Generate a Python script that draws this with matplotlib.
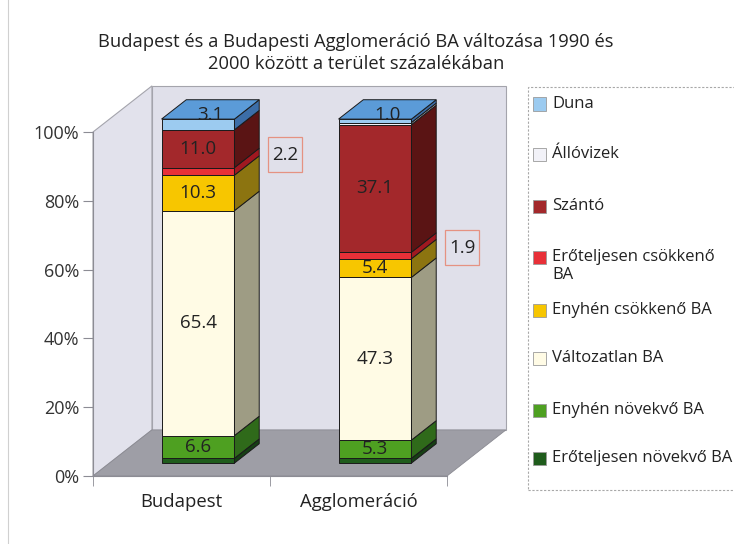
"""3D-style stacked bar chart: Budapest and agglomeration land-use change."""

import matplotlib.pyplot as plt
from matplotlib.patches import Polygon, Rectangle

plt.rcParams["font.family"] = ["Open Sans", "DejaVu Sans"]

categories = ["Budapest", "Agglomeráció"]
series = [
    "Erőteljesen növekvő BA",
    "Enyhén növekvő BA",
    "Változatlan BA",
    "Enyhén csökkenő BA",
    "Erőteljesen csökkenő BA",
    "Szántó",
    "Állóvizek",
    "Duna",
]
budapest = [1.4, 6.6, 65.4, 10.3, 2.2, 11.0, 0.0, 3.1]
agglomeracio = [1.4, 5.3, 47.3, 5.4, 1.9, 37.1, 0.6, 1.0]
values = [budapest, agglomeracio]

# which series get a label on the front face / top / in a callout box
front_labels = ["Enyhén növekvő BA", "Változatlan BA", "Enyhén csökkenő BA", "Szántó"]
top_label = "Duna"
callout_label = "Erőteljesen csökkenő BA"

front_col = ["#1f5c1c", "#4ea021", "#fffbe5", "#f7c600", "#e83038", "#a3282b", "#f2f2f8", "#9ccbf0"]
side_col = ["#163f14", "#2f6a1a", "#9e9c84", "#8c7410", "#a01820", "#5a1414", "#b0b0b8", "#3c6ea8"]
top_col = ["#2f7a2a", "#5cb030", "#fffdf0", "#ffd83a", "#f05058", "#b83a3a", "#fafafc", "#5b9bd8"]

W, H = 734, 544
fig = plt.figure(figsize=(W / 100, H / 100), dpi=100)
fig.patch.set_facecolor("white")

# axes covers the front plane of the 3D box
ax = fig.add_axes([93 / W, (H - 476) / H, 354 / W, 344 / H])
ax.set_xlim(-0.5, 1.5)
ax.set_ylim(0, 100)
ax.patch.set_visible(False)

DX, DY = 0.333, 13.4  # full depth of the box in data units
fx, fy = 0.28 * DX, 0.28 * DY  # bar front offset
bx, by = 0.42 * DX, 0.42 * DY  # bar depth
bw = 0.412

wall = "#e0e0ea"
wall_edge = "#a4a4ac"
ax.add_patch(Polygon([(-0.5 + DX, DY), (1.5 + DX, DY), (1.5 + DX, 100 + DY), (-0.5 + DX, 100 + DY)],
                     closed=True, fc=wall, ec=wall_edge, lw=0.8, clip_on=False, zorder=0))
ax.add_patch(Polygon([(-0.5, 0), (-0.5, 100), (-0.5 + DX, 100 + DY), (-0.5 + DX, DY)],
                     closed=True, fc="#e2e2ec", ec=wall_edge, lw=0.8, clip_on=False, zorder=0))
ax.add_patch(Polygon([(-0.5, 0), (1.5, 0), (1.5 + DX, DY), (-0.5 + DX, DY)],
                     closed=True, fc="#9e9ea6", ec="#8a8a92", lw=0.6, clip_on=False, zorder=0))

edge = "#1a1a1a"
label_fs = 13.5
callout_dy = [4.8, 2.3]
callout_w, callout_h = 0.192, 10.2
for i, cat in enumerate(categories):
    c = i
    bottom = 0.0
    vals = values[i]
    last = max(k for k, v in enumerate(vals) if v > 0)
    for k, v in enumerate(vals):
        if v <= 0:
            continue
        y0, y1 = bottom + fy, bottom + v + fy
        xl, xr = c + fx - bw / 2, c + fx + bw / 2
        ax.add_patch(Rectangle((xl, y0), bw, v, fc=front_col[k], ec=edge, lw=0.7,
                               clip_on=False, zorder=2))
        ax.add_patch(Polygon([(xr, y0), (xr + bx, y0 + by), (xr + bx, y1 + by), (xr, y1)],
                             closed=True, fc=side_col[k], ec=edge, lw=0.7, clip_on=False, zorder=2))
        if k == last:
            ax.add_patch(Polygon([(xl, y1), (xr, y1), (xr + bx, y1 + by), (xl + bx, y1 + by)],
                                 closed=True, fc=top_col[k], ec=edge, lw=0.7, clip_on=False, zorder=2))
        name = series[k]
        if name in front_labels:
            ax.text(c + fx, (y0 + y1) / 2, f"{v:.1f}", ha="center", va="center",
                    fontsize=label_fs, color="#222222", zorder=3)
        elif name == top_label:
            ax.text(c + fx + bx / 2, y1 + by / 2 - 1.5, f"{v:.1f}", ha="center", va="center",
                    fontsize=label_fs, color="#222222", zorder=3)
        elif name == callout_label:
            lx, ly = c + 0.585, (y0 + y1) / 2 + callout_dy[i]
            ax.add_patch(Rectangle((lx - callout_w / 2, ly - callout_h / 2), callout_w, callout_h,
                                   fc="none", ec="#e59282", lw=0.9, clip_on=False, zorder=3))
            ax.text(lx, ly, f"{v:.1f}", ha="center", va="center",
                    fontsize=label_fs, color="#222222", zorder=3)
        bottom += v

# axes styling
for s in ["top", "right"]:
    ax.spines[s].set_visible(False)
ax.spines["left"].set_color("#8c8c94")
ax.spines["bottom"].set_color("#8c8c94")
ax.set_yticks(range(0, 101, 20))
ax.set_yticklabels([f"{t}%" for t in range(0, 101, 20)])
ax.tick_params(axis="y", direction="out", length=7, color="#8c8c94", labelsize=13,
               labelcolor="#333333", pad=3)
ax.set_xticks(range(len(categories)))
ax.set_xticklabels(categories)
ax.tick_params(axis="x", length=0, labelsize=13.3, labelcolor="#222222", pad=12)
ax.set_xticks([-0.5, 0.5, 1.5], minor=True)
ax.tick_params(axis="x", which="minor", direction="out", length=7, color="#8c8c94")

fig.text(356 / W, 1 - 42 / H, "Budapest és a Budapesti Agglomeráció BA változása 1990 és",
         ha="center", va="center", fontsize=13.2, color="#222222")
fig.text(356 / W, 1 - 64 / H, "2000 között a terület százalékában",
         ha="center", va="center", fontsize=13.2, color="#222222")

# legend (top to bottom, reverse of stacking order)
fig.add_artist(Rectangle((528 / W, 1 - 490 / H), 220 / W, 403 / H, transform=fig.transFigure,
                         fc="none", ec="#a8a8a8", lw=0.8, ls=(0, (2, 1.5))))
leg_y = [104, 154, 206, 257, 310, 358, 410, 458]
leg_text = {"Erőteljesen csökkenő BA": "Erőteljesen csökkenő\nBA"}
for j, k in enumerate(reversed(range(len(series)))):
    y = leg_y[j]
    fig.add_artist(Rectangle((533 / W, 1 - (y + 6.5) / H), 13 / W, 13 / H, transform=fig.transFigure,
                             fc=front_col[k], ec="#9a9a9a", lw=0.6))
    txt = leg_text.get(series[k], series[k])
    fig.text(552 / W, 1 - (y - 8) / H, txt, ha="left", va="top", fontsize=12,
             color="#222222", linespacing=1.2)

# faint outer frame line on the left
fig.add_artist(plt.Line2D([8 / W, 8 / W], [0, 1], transform=fig.transFigure, color="#d0d0d0", lw=0.8))

fig.savefig("out.png", dpi=100)
